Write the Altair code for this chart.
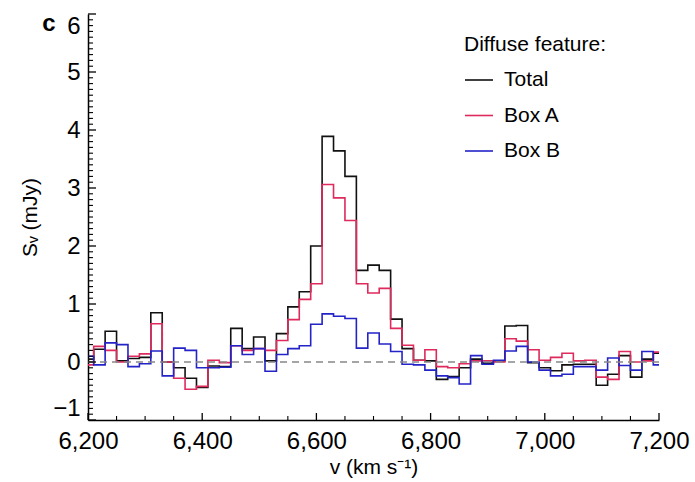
import altair as alt
import pandas as pd

velocity = [6200 + 20 * i for i in range(51)]

total = [0.05, 0.22, 0.53, 0.02, 0.06, 0.08, 0.85, 0.0, -0.1, -0.28,
         -0.44, -0.07, -0.08, 0.58, 0.23, 0.43, 0.02, 0.49, 0.95, 1.21,
         2.0, 3.89, 3.64, 3.2, 1.58, 1.67, 1.58, 0.74, 0.23, 0.03,
         0.02, -0.3, -0.25, -0.1, 0.05, -0.02, 0.02, 0.62, 0.63, -0.01,
         -0.1, -0.15, -0.05, -0.04, -0.04, -0.4, -0.21, 0.11, -0.26, 0.05,
         0.15]

box_a = [-0.05, 0.27, 0.2, 0.0, 0.1, 0.14, 0.66, 0.0, -0.28, -0.47,
         -0.42, 0.03, -0.01, 0.28, 0.2, 0.23, 0.2, 0.37, 0.73, 1.08,
         1.35, 3.06, 2.83, 2.44, 1.35, 1.19, 1.27, 0.58, 0.29, 0.03,
         0.21, -0.08, -0.1, -0.03, 0.02, 0.02, 0.0, 0.4, 0.36, 0.21,
         0.03, 0.08, 0.15, 0.02, 0.03, -0.26, -0.3, 0.18, 0.0, 0.02,
         0.17]

box_b = [0.1, -0.05, 0.33, 0.3, -0.08, -0.03, 0.19, -0.24, 0.24, 0.2,
         -0.1, -0.1, -0.09, 0.28, 0.13, 0.23, -0.16, 0.13, 0.23, 0.28,
         0.65, 0.83, 0.79, 0.75, 0.24, 0.5, 0.31, 0.18, -0.04, -0.05,
         -0.14, -0.24, -0.27, -0.38, 0.11, -0.04, 0.03, 0.19, 0.27, 0.0,
         -0.14, -0.24, -0.21, -0.08, -0.08, -0.14, 0.07, -0.06, -0.14, 0.18,
         -0.05]

series_names = ["Total", "Box A", "Box B"]
series_colors = ["#111111", "#de2a5c", "#2323c8"]

x_major = [6200, 6400, 6600, 6800, 7000, 7200]
x_minor = [v for v in range(6250, 7200, 50) if v % 200 != 0]
y_major = [-1, 0, 1, 2, 3, 4, 5, 6]
y_minor = [round(-1 + 0.1 * i, 1) for i in range(71) if i % 10 != 0]

rows = []
for name, vals in zip(series_names, [total, box_a, box_b]):
    for v, s in zip(velocity, vals):
        rows.append({"v": v, "S": s, "series": name})
df = pd.DataFrame(rows)

FONT = "Liberation Sans"
W, H = 571, 406
xscale = alt.Scale(domain=[6200, 7200], nice=False, zero=False)
yscale = alt.Scale(domain=[-1, 6], nice=False, zero=False)

lines = alt.Chart(df).mark_line(interpolate="step", strokeWidth=1.6).encode(
    x=alt.X("v:Q", scale=xscale,
            axis=alt.Axis(values=x_major, format=",d", ticks=False, grid=False,
                          domainColor="black", domainWidth=1.5, labelFontSize=24,
                          labelColor="black", labelPadding=9, labelFont=FONT,
                          title="v (km s⁻¹)", titleFont=FONT, titleFontSize=21,
                          titleFontWeight="normal", titleColor="black", titlePadding=3,
                          labelFlush=False)),
    y=alt.Y("S:Q", scale=yscale,
            axis=alt.Axis(values=y_major, format="d", ticks=False, grid=False,
                          domainColor="black", domainWidth=1.5, labelFontSize=24,
                          labelColor="black", labelPadding=8, labelFont=FONT,
                          labelFlush=True,
                          title="Sᵥ (mJy)", titleFont=FONT, titleFontSize=21,
                          titleFontWeight="normal", titleColor="black", titlePadding=12)),
    color=alt.Color("series:N",
                    scale=alt.Scale(domain=series_names, range=series_colors),
                    sort=series_names,
                    legend=alt.Legend(title="Diffuse feature:", orient="none",
                                      legendX=376, legendY=20, symbolType="stroke",
                                      symbolSize=784, symbolStrokeWidth=1.6,
                                      labelFontSize=21, titleFontSize=21,
                                      labelFont=FONT, titleFont=FONT,
                                      titleFontWeight="normal", labelColor="black",
                                      titleColor="black", rowPadding=10.5,
                                      titlePadding=10, labelOffset=10)),
)

zero = alt.Chart(pd.DataFrame({"S": [0]})).mark_rule(
    color="#888888", strokeDash=[7, 5], strokeWidth=1.3).encode(
    y=alt.Y("S:Q", scale=yscale))

ymaj = alt.Chart(pd.DataFrame({"S": y_major})).mark_rule(color="black", strokeWidth=1.3).encode(
    y=alt.Y("S:Q", scale=yscale), x=alt.value(0), x2=alt.value(8))
ymin = alt.Chart(pd.DataFrame({"S": y_minor})).mark_rule(color="black", strokeWidth=1.1).encode(
    y=alt.Y("S:Q", scale=yscale), x=alt.value(0), x2=alt.value(5))
xmaj = alt.Chart(pd.DataFrame({"v": x_major})).mark_rule(color="black", strokeWidth=1.3).encode(
    x=alt.X("v:Q", scale=xscale), y=alt.value(H), y2=alt.value(H - 7))
xmin = alt.Chart(pd.DataFrame({"v": x_minor})).mark_rule(color="black", strokeWidth=1.1).encode(
    x=alt.X("v:Q", scale=xscale), y=alt.value(H), y2=alt.value(H - 4))

label = alt.Chart(pd.DataFrame({"c": ["c"]})).mark_text(
    font=FONT, fontSize=24, fontWeight="bold", color="black", align="center",
    baseline="middle").encode(text="c:N", x=alt.value(-39), y=alt.value(10))

chart = alt.layer(lines, zero, ymin, ymaj, xmin, xmaj, label).properties(
    width=W, height=H,
    padding={"left": 88, "top": 14, "right": 36, "bottom": 62},
    autosize="none",
).configure_view(stroke=None)

chart.save("out.html", embed_options={"renderer": "svg", "actions": False})
